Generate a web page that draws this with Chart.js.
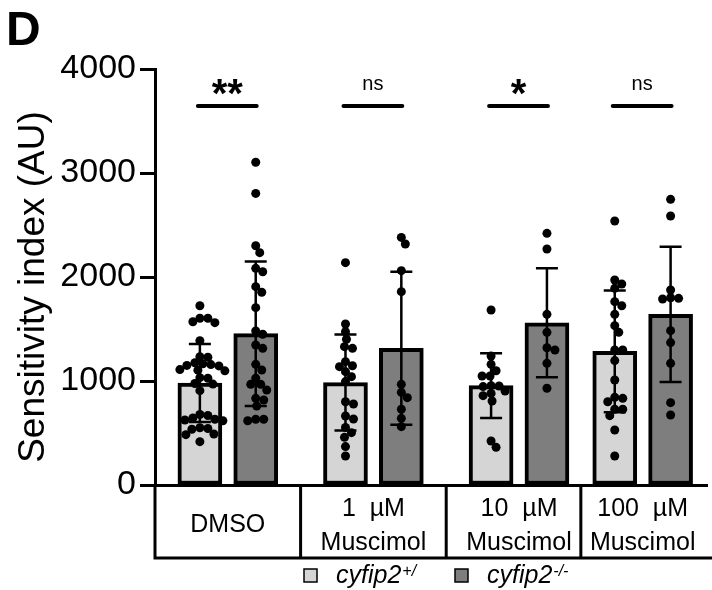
<!DOCTYPE html>
<html lang="en">
<head>
<meta charset="UTF-8">
<title>Sensitivity index</title>
<script src="https://cdn.jsdelivr.net/npm/chart.js"></script>
<style>
  body { margin: 0; background: #fff; }
  #wrap { width: 712px; height: 590px; }
</style>
</head>
<body>
<div id="wrap"><canvas id="chart" width="712" height="590"></canvas></div>
<script>
// ---- data ----
const groupLabels = [['DMSO'], ['1  µM', 'Muscimol'], ['10  µM', 'Muscimol'], ['100  µM', 'Muscimol']];
const genotypes = [['cyfip2', '+/'], ['cyfip2', '-/-']];
const yTitle = 'Sensitivity index (AU)';
const meanWT = [980, 985, 955, 1285];
const meanKO = [1455, 1315, 1560, 1640];
const sdWT = [375, 462, 311, 585];
const sdKO = [695, 735, 525, 650];
const signif = ['**', 'ns', '*', 'ns'];
const yTicks = [0, 1000, 2000, 3000, 4000];

const dotsWT = [
  [1724, 1603, 1603, 1561, 1570, 1388, 1234, 1228, 1175, 1165, 1158, 1150, 1145, 1110, 1104, 1098,
   1032, 1026, 976, 970, 907, 678, 668, 632, 625, 618, 645, 550, 543, 536, 490, 484, 417],
  [2138, 1548, 1474, 1401, 1330, 1314, 1186, 1138, 1147, 1090, 1042, 994, 801, 779, 635, 663,
   554, 503, 458, 369, 279],
  [1683, 1240, 1160, 1099, 1048, 1048, 946, 904, 955, 952, 881, 859, 808, 362, 423],
  [2538, 1971, 1933, 1891, 1763, 1724, 1641, 1532, 1468, 1298, 1298, 1196, 1010, 843, 833, 801,
   728, 728, 667, 529, 279]
];
const dotsKO = [
  [3103, 2804, 2301, 2234, 2083, 2051, 1907, 1853, 1705, 1449, 1481, 1314, 1346, 1160, 1106, 1026,
   913, 968, 968, 817, 833, 760, 632, 618, 632],
  [2317, 2381, 2061, 1859, 891, 968, 840, 728, 641, 561],
  [2420, 2269, 1641, 1468, 1298, 1320, 1170, 930],
  [2747, 2587, 1801, 1788, 1875, 1795, 1484, 1369, 1170, 792, 673]
];

// ---- layout ----
const FONT = '"Liberation Sans", Arial, sans-serif';
const groupCenter = [73, 219, 365, 489];   // x axis units (px from axis)
const pairGap = 28;
const barW = 44;
const dotR = 4.5;
const lightGrey = '#d4d5d4';
const darkGrey = '#7e7e7e';

const xWT = groupCenter.map(c => c - pairGap);
const xKO = groupCenter.map(c => c + pairGap);

function dotSet(lists, xs) {
  return lists.map((vals, i) => ({
    type: 'scatter',
    data: vals.map(v => ({x: xs[i], y: v})),
    backgroundColor: '#000',
    borderWidth: 0,
    pointRadius: dotR,
    pointHoverRadius: dotR,
    order: 1
  }));
}

const overlay = {
  id: 'overlay',
  afterDatasetsDraw(chart) {
    const {ctx, scales: {x, y}} = chart;
    ctx.save();
    ctx.strokeStyle = '#000';
    ctx.lineWidth = 2.5;
    const bars = [[xWT, meanWT, sdWT], [xKO, meanKO, sdKO]];
    bars.forEach(([xs, m, sd]) => {
      xs.forEach((xv, i) => {
        const px = x.getPixelForValue(xv);
        const top = y.getPixelForValue(m[i] + sd[i]);
        const bot = y.getPixelForValue(m[i] - sd[i]);
        ctx.beginPath();
        ctx.moveTo(px, top); ctx.lineTo(px, bot);
        ctx.moveTo(px - 11, top); ctx.lineTo(px + 11, top);
        ctx.moveTo(px - 11, bot); ctx.lineTo(px + 11, bot);
        ctx.stroke();
      });
    });
    ctx.restore();
  },
  afterDraw(chart) {
    const {ctx, chartArea: ca, scales: {x}} = chart;
    ctx.save();
    ctx.fillStyle = '#000';
    ctx.strokeStyle = '#000';

    // panel letter
    ctx.font = 'bold 48px ' + FONT;
    ctx.textAlign = 'left';
    ctx.textBaseline = 'alphabetic';
    ctx.fillText('D', 6, 45);

    // y title
    ctx.save();
    ctx.translate(44, 287);
    ctx.rotate(-Math.PI / 2);
    ctx.font = '37px ' + FONT;
    ctx.textAlign = 'center';
    ctx.fillText(yTitle, 0, 0);
    ctx.restore();

    // significance
    ctx.lineWidth = 4;
    ctx.lineCap = 'round';
    signif.forEach((s, i) => {
      const a = x.getPixelForValue(xWT[i]) - 2;
      const b = x.getPixelForValue(xKO[i]) + 1;
      ctx.beginPath();
      ctx.moveTo(a, 106); ctx.lineTo(b, 106);
      ctx.stroke();
      ctx.textAlign = 'center';
      if (s === 'ns') {
        ctx.font = '20px ' + FONT;
        ctx.fillText(s, (a + b) / 2, 90);
      } else {
        ctx.font = 'bold 40px ' + FONT;
        ctx.fillText(s, (a + b) / 2, 107);
      }
    });

    // category boxes
    ctx.lineCap = 'butt';
    ctx.lineWidth = 3;
    const boxBottom = 558;
    const edges = [ca.left];
    for (let i = 0; i < groupCenter.length - 1; i++) {
      edges.push((x.getPixelForValue(xKO[i]) + x.getPixelForValue(xWT[i + 1])) / 2);
    }
    ctx.beginPath();
    edges.forEach(e => { ctx.moveTo(e, ca.bottom); ctx.lineTo(e, boxBottom); });
    ctx.moveTo(ca.left - 1.5, boxBottom); ctx.lineTo(712, boxBottom);
    ctx.stroke();

    ctx.font = '25px ' + FONT;
    ctx.textAlign = 'center';
    groupLabels.forEach((lines, i) => {
      const cx = x.getPixelForValue(groupCenter[i]);
      if (lines.length === 1) {
        ctx.fillText(lines[0], cx, 532);
      } else {
        ctx.fillText(lines[0], cx, 516);
        ctx.fillText(lines[1], cx, 550);
      }
    });

    // legend
    const items = [[304, 336, lightGrey], [455, 487, darkGrey]];
    ctx.textAlign = 'left';
    items.forEach(([sx, tx, col], i) => {
      ctx.fillStyle = col;
      ctx.fillRect(sx, 569, 13, 13);
      ctx.lineWidth = 1.5;
      ctx.strokeRect(sx, 569, 13, 13);
      ctx.fillStyle = '#000';
      ctx.font = 'italic 25px ' + FONT;
      ctx.fillText(genotypes[i][0], tx, 583);
      const w = ctx.measureText(genotypes[i][0]).width;
      ctx.font = 'italic 16px ' + FONT;
      ctx.fillText(genotypes[i][1], tx + w + 1, 576);
    });
    ctx.restore();
  }
};

const chart = new Chart(document.getElementById('chart'), {
  type: 'bar',
  data: {
    datasets: [
      ...dotSet(dotsWT, xWT),
      ...dotSet(dotsKO, xKO),
      {
        type: 'bar',
        data: xWT.map((xv, i) => ({x: xv, y: meanWT[i]})),
        backgroundColor: lightGrey,
        borderColor: '#000',
        borderWidth: 4,
        borderSkipped: false,
        barThickness: barW,
        grouped: false,
        order: 2
      },
      {
        type: 'bar',
        data: xKO.map((xv, i) => ({x: xv, y: meanKO[i]})),
        backgroundColor: darkGrey,
        borderColor: '#000',
        borderWidth: 4,
        borderSkipped: false,
        barThickness: barW,
        grouped: false,
        order: 2
      }
    ]
  },
  options: {
    responsive: false,
    animation: false,
    events: [],
    layout: { padding: { left: 0, top: 69, right: 3, bottom: 105 } },
    plugins: { legend: { display: false }, tooltip: { enabled: false } },
    scales: {
      x: {
        type: 'linear',
        offset: false,
        min: 0,
        max: 554,
        ticks: { display: false },
        grid: { display: false },
        border: { display: true, width: 3, color: '#000' },
        afterFit: s => { s.height = 0; }
      },
      y: {
        min: 0,
        max: 4000,
        afterBuildTicks: s => { s.ticks = yTicks.map(v => ({value: v})); },
        ticks: { color: '#000', font: { family: FONT, size: 34 }, padding: 4, callback: v => String(v) },
        grid: { drawOnChartArea: false, drawTicks: true, tickLength: 15, tickWidth: 3, tickColor: '#000' },
        border: { display: true, width: 3, color: '#000' },
        title: { display: false },
        afterFit: s => { s.width = 155; }
      }
    }
  },
  plugins: [overlay]
});

// spread the dots horizontally (simple beeswarm), in pixel space
function swarm(values, cx, xs, ys) {
  const placed = [];
  const d = dotR * 2 * 0.85;
  const c = xs.getPixelForValue(cx);
  return values.slice().sort((a, b) => b - a).map(v => {
    const py = ys.getPixelForValue(v);
    let dx = 0;
    for (let k = 0; k < 400; k++) {
      const cand = (k % 2 ? 1 : -1) * Math.ceil(k / 2);
      if (placed.every(p => (p.dx - cand) ** 2 + (p.py - py) ** 2 >= d * d)) { dx = cand; break; }
    }
    placed.push({dx, py});
    return {x: xs.getValueForPixel(c + dx), y: v};
  });
}

const xs = chart.scales.x, ys = chart.scales.y;
dotsWT.forEach((vals, i) => { chart.data.datasets[i].data = swarm(vals, xWT[i], xs, ys); });
dotsKO.forEach((vals, i) => { chart.data.datasets[4 + i].data = swarm(vals, xKO[i], xs, ys); });
chart.update('none');
</script>
</body>
</html>
